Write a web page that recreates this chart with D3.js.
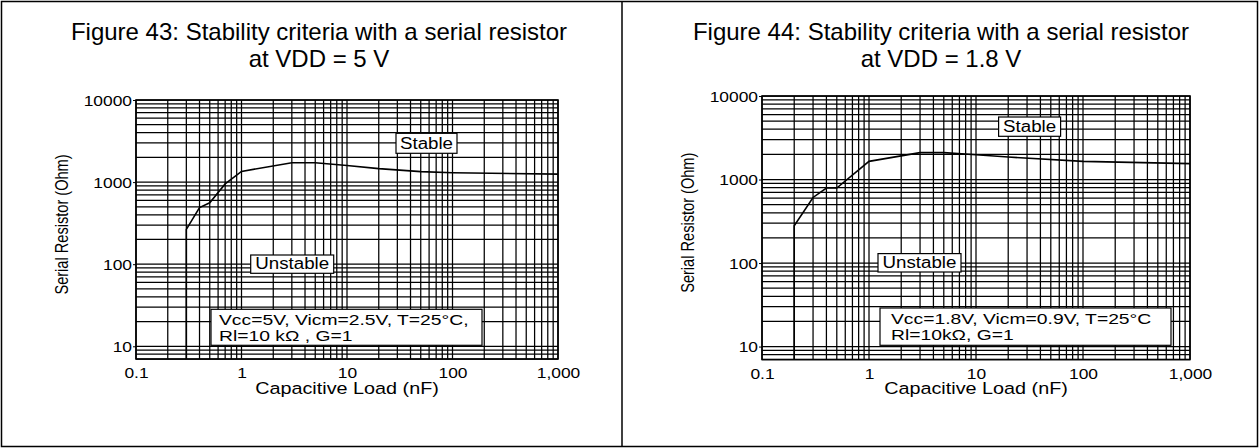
<!DOCTYPE html>
<html>
<head>
<meta charset="utf-8">
<script src="https://cdn.jsdelivr.net/npm/d3@7"></script>
<style>
  body { margin: 0; background: #fff; }
  svg { display: block; }
  text { font-family: "Liberation Sans", Arial, Helvetica, sans-serif; fill: #000; }
</style>
</head>
<body>
<div id="chart"></div>
<script>
// Figure 43, VDD = 5 V : minimum serial resistor vs capacitive load
var capLoad43 = [0.3, 0.3, 0.4, 0.5, 0.7, 1, 3, 5, 10, 20, 50, 100, 1000];
var rSerial43 = [7, 265, 490, 560, 950, 1350, 1720, 1720, 1590, 1460, 1340, 1300, 1250];

// Figure 44, VDD = 1.8 V
var capLoad44 = [0.2, 0.2, 0.3, 0.4, 0.5, 1, 3, 5, 10, 20, 100, 1000];
var rSerial44 = [7, 280, 610, 790, 790, 1650, 2100, 2100, 1980, 1860, 1650, 1550];

// axes
var xDomain = [0.1, 1000];
var yDomain = [7, 10000];
var xTicks = [0.1, 1, 10, 100, 1000];
var xTickLabels = ["0.1", "1", "10", "100", "1,000"];
var yTicks = [10, 100, 1000, 10000];
var yTickLabels = ["10", "100", "1000", "10000"];

// texts
var titles43 = ["Figure 43: Stability criteria with a serial resistor", "at VDD = 5 V"];
var titles44 = ["Figure 44: Stability criteria with a serial resistor", "at VDD = 1.8 V"];
var notes43 = ["Vcc=5V, Vicm=2.5V, T=25°C,", "Rl=10 kΩ , G=1"];
var notes44 = ["Vcc=1.8V, Vicm=0.9V, T=25°C", "Rl=10kΩ, G=1"];
var xTitle = "Capacitive Load (nF)";
var yTitle = "Serial Resistor (Ohm)";

var W = 1259, H = 448, divider = 622;
var stretch = 1.2; // the chart artwork is drawn a bit wider than tall

var svg = d3.select("#chart").append("svg")
    .attr("width", W)
    .attr("height", H);

// outer frame + divider
svg.append("rect")
    .attr("x", 1.5).attr("y", 1.5)
    .attr("width", W - 3).attr("height", H - 3)
    .attr("fill", "none").attr("stroke", "#000").attr("stroke-width", 1.5);
svg.append("line")
    .attr("x1", divider).attr("x2", divider)
    .attr("y1", 1.5).attr("y2", H - 1.5)
    .attr("stroke", "#000").attr("stroke-width", 1.5);

function stretchedText(g, str, x, y, size, anchor, sx) {
  return g.append("text")
      .attr("transform", "translate(" + x + "," + y + ") scale(" + (sx || stretch) + ",1)")
      .attr("text-anchor", anchor)
      .style("font-size", size + "px")
      .text(str);
}

function drawPanel(cfg) {
  // title (document text, not stretched)
  cfg.titles.forEach(function(t, i){
    svg.append("text")
        .attr("x", cfg.titleX)
        .attr("y", 39.5 + i * 27)
        .attr("text-anchor", "middle")
        .style("font-size", "24px")
        .text(t);
  });

  var p = cfg.plot;
  var x = d3.scaleLog().domain(xDomain).range([0, p.width]);
  var y = d3.scaleLog().domain(yDomain).range([p.height, 0]);

  var g = svg.append("g").attr("transform", "translate(" + p.left + "," + p.top + ")");

  // log grid
  g.append("g").selectAll("line")
      .data(x.ticks())
      .enter().append("line")
      .attr("x1", function(d){ return x(d); })
      .attr("x2", function(d){ return x(d); })
      .attr("y1", 0).attr("y2", p.height)
      .attr("stroke", "#000").attr("stroke-width", 1.25);
  g.append("g").selectAll("line")
      .data(y.ticks())
      .enter().append("line")
      .attr("y1", function(d){ return y(d); })
      .attr("y2", function(d){ return y(d); })
      .attr("x1", 0).attr("x2", p.width)
      .attr("stroke", "#000").attr("stroke-width", 1.25);

  // axes
  var yAxis = g.append("g")
      .call(d3.axisLeft(y)
        .tickValues(yTicks)
        .tickSize(3)
        .tickFormat(function(d){ return yTickLabels[yTicks.indexOf(d)]; }));
  yAxis.select(".domain").remove();
  yAxis.selectAll("line").attr("stroke", "#000");
  yAxis.selectAll("text")
      .attr("x", null).attr("dy", "0.36em")
      .attr("transform", "translate(-4,0) scale(" + stretch + ",1)")
      .style("font-size", "14.5px")
      .style("font-family", null);

  var xAxis = g.append("g")
      .attr("transform", "translate(0," + p.height + ")")
      .call(d3.axisBottom(x)
        .tickValues(xTicks)
        .tickSize(0)
        .tickFormat(function(d){ return xTickLabels[xTicks.indexOf(d)]; }));
  xAxis.select(".domain").remove();
  xAxis.selectAll("text")
      .attr("y", null).attr("dy", "0.36em")
      .attr("transform", "translate(0,14) scale(" + stretch + ",1)")
      .style("font-size", "14.5px")
      .style("font-family", null);

  // axis titles
  stretchedText(g, xTitle, p.width / 2, p.height + 29, 16.5, "middle")
      .attr("dy", "0.36em");
  g.append("text")
      .attr("transform", "translate(-74," + (p.height / 2 - 5) + ") scale(" + stretch + ",1) rotate(-90)")
      .attr("text-anchor", "middle")
      .attr("dy", "0.36em")
      .style("font-size", "14.6px")
      .text(yTitle);

  // stability limit
  var line = d3.line()
      .x(function(d){ return x(d[0]); })
      .y(function(d){ return y(d[1]); });
  g.append("path")
      .datum(d3.zip(cfg.capLoad, cfg.rSerial))
      .attr("d", line)
      .attr("fill", "none")
      .attr("stroke", "#000")
      .attr("stroke-width", 1.6);

  // plot frame
  g.append("rect")
      .attr("width", p.width).attr("height", p.height)
      .attr("fill", "none").attr("stroke", "#000").attr("stroke-width", 1.6);

  // region labels
  [["Stable", cfg.stable], ["Unstable", cfg.unstable]].forEach(function(a){
    var b = a[1];
    g.append("rect")
        .attr("x", b[0]).attr("y", b[1]).attr("width", b[2]).attr("height", b[3])
        .attr("fill", "#fff").attr("stroke", "#000").attr("stroke-width", 1.2);
    stretchedText(g, a[0], b[0] + b[2] / 2, b[1] + b[3] - 4.3, 15.6, "middle");
  });

  // test conditions box
  var n = cfg.info;
  g.append("rect")
      .attr("x", n[0]).attr("y", n[1]).attr("width", n[2]).attr("height", n[3])
      .attr("fill", "#fff").attr("stroke", "#000").attr("stroke-width", 1.2);
  cfg.notes.forEach(function(t, i){
    stretchedText(g, t, n[0] + n[4], n[1] + 16 + i * 15.5, 15.2, "start", 1.27);
  });
}

drawPanel({
  titles: titles43, titleX: 319,
  plot: {left: 136, top: 100, width: 422, height: 259},
  capLoad: capLoad43, rSerial: rSerial43, notes: notes43,
  stable: [260, 33.3, 61, 20],
  unstable: [114.7, 155, 83, 18.3],
  info: [75, 209.3, 271, 36, 8]
});

drawPanel({
  titles: titles44, titleX: 941,
  plot: {left: 762, top: 96, width: 428, height: 263.5},
  capLoad: capLoad44, rSerial: rSerial44, notes: notes44,
  stable: [236.6, 21, 62, 19.3],
  unstable: [116, 157.6, 83, 18.4],
  info: [118, 212, 291, 37.3, 11]
});
</script>
</body>
</html>
